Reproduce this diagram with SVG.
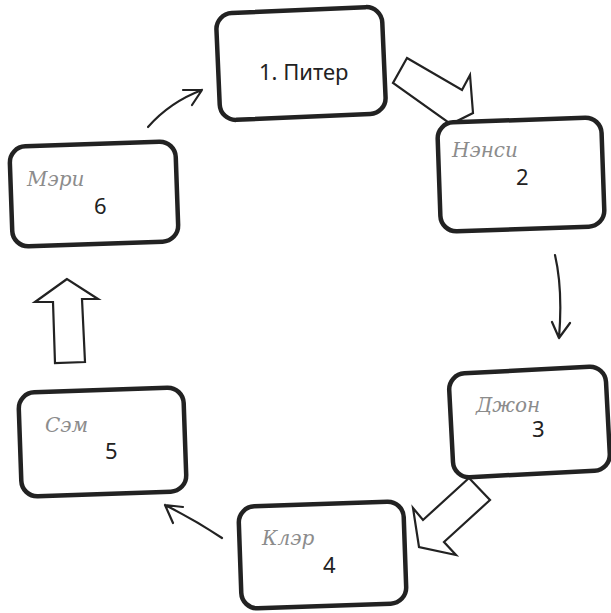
<svg xmlns="http://www.w3.org/2000/svg" width="611" height="613" viewBox="0 0 611 613">
<style>
.box{fill:#fff;stroke:#222;stroke-width:4.5}
.big{fill:#fff;stroke:#222;stroke-width:2.2;stroke-linejoin:miter}
.thin{fill:none;stroke:#222;stroke-width:2.2;stroke-linecap:round}
.lbl{font-family:"Noto Sans","Open Sans",sans-serif;font-size:22px;fill:#222}
.hw{font-family:"DejaVu Serif","Liberation Serif",serif;font-style:italic;font-size:20px;fill:#8c8c8c;font-weight:normal}
</style>
<rect width="611" height="613" fill="#fff"/>
<g id="connectors">
<polygon class="big" points="407,58 462,90 470,75 473,113 439,130 448,122 393,83"/>
<polygon class="big" points="469,478 423,520 413,508 419,547 456,555 444,542 490,500"/>
<polygon class="big" points="67,279 35,302 53,302 55,363 85,362 82,299 98,299"/>
<path class="thin" d="M148,127 Q170,102 202,90 M202,90 L183,90 M202,90 L192,105"/>
<path class="thin" d="M555,255 Q563,290 559,338 M559,338 L552,322 M559,338 L570,323"/>
<path class="thin" d="M222,538 Q195,520 165,505 M165,505 L183,507 M165,505 L173,523"/>
</g>
<g id="n1">
<rect class="box" x="218" y="10" width="166" height="107" rx="16" transform="rotate(-2.5 301 63.5)"/>
<text class="lbl" x="259" y="80" font-size="24.5">1. Питер</text>
</g>
<g id="n2">
<rect class="box" x="439" y="120" width="164" height="109" rx="16" transform="rotate(-2 521 175)"/>
<text class="hw" x="452" y="157">Нэнси</text>
<text class="lbl" x="516" y="185">2</text>
</g>
<g id="n3">
<rect class="box" x="451" y="370" width="157" height="104" rx="16" transform="rotate(-3 530 422)"/>
<text class="hw" x="476" y="412" font-size="23">Джон</text>
<text class="lbl" x="532" y="437">3</text>
</g>
<g id="n4">
<rect class="box" x="240" y="504" width="165" height="102" rx="16" transform="rotate(-2 322 555)"/>
<text class="hw" x="262" y="545" font-size="23">Клэр</text>
<text class="lbl" x="323" y="573">4</text>
</g>
<g id="n5">
<rect class="box" x="20" y="390" width="165" height="104" rx="16" transform="rotate(-2 102 442)"/>
<text class="hw" x="45" y="432" font-size="23">Сэм</text>
<text class="lbl" x="105" y="459">5</text>
</g>
<g id="n6">
<rect class="box" x="11" y="144" width="166" height="100" rx="16" transform="rotate(-2 94 194)"/>
<text class="hw" x="27" y="186" font-size="23">Мэри</text>
<text class="lbl" x="94" y="214">6</text>
</g>
</svg>
